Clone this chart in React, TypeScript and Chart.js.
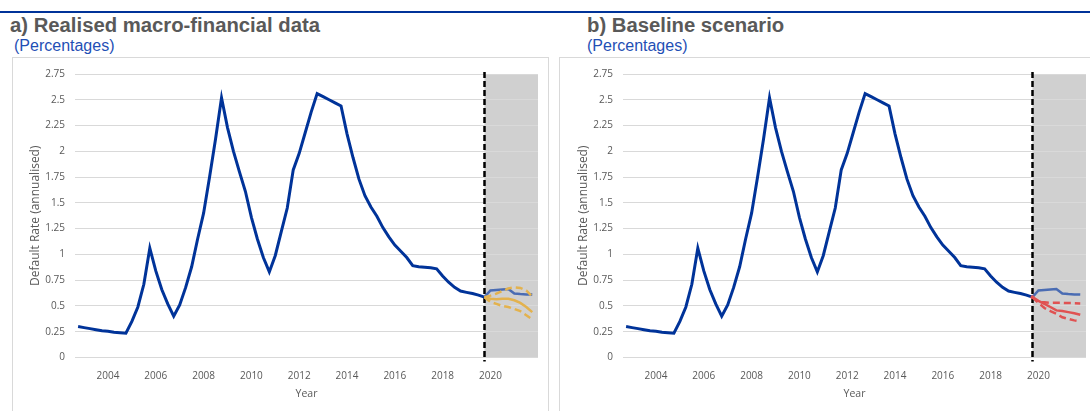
import React, { useEffect, useRef } from "react";
import { Chart, registerables } from "chart.js";

Chart.register(...registerables);

// Quarterly observations (year + quarter fraction)
const histX: number[] = [
  2002.75, 2003.0, 2003.25, 2003.5, 2003.75, 2004.0, 2004.25, 2004.5, 2004.75,
  2005.0, 2005.25, 2005.5, 2005.75, 2006.0, 2006.25, 2006.5, 2006.75,
  2007.0, 2007.25, 2007.5, 2007.75, 2008.0, 2008.25, 2008.5, 2008.75,
  2009.0, 2009.25, 2009.5, 2009.75, 2010.0, 2010.25, 2010.5, 2010.75,
  2011.0, 2011.25, 2011.5, 2011.75, 2012.0, 2012.25, 2012.5, 2012.75,
  2013.0, 2013.25, 2013.5, 2013.75, 2014.0, 2014.25, 2014.5, 2014.75,
  2015.0, 2015.25, 2015.5, 2015.75, 2016.0, 2016.25, 2016.5, 2016.75,
  2017.0, 2017.25, 2017.5, 2017.75, 2018.0, 2018.25, 2018.5, 2018.75,
  2019.0, 2019.25, 2019.5, 2019.75,
];
const histDefaultRate: number[] = [
  0.30, 0.29, 0.28, 0.27, 0.26, 0.255, 0.245, 0.24, 0.235,
  0.35, 0.49, 0.71, 1.06, 0.84, 0.66, 0.52, 0.40,
  0.51, 0.68, 0.88, 1.15, 1.40, 1.75, 2.12, 2.52,
  2.23, 2.0, 1.80, 1.61, 1.36, 1.15, 0.97, 0.83,
  0.99, 1.22, 1.45, 1.82, 1.98, 2.18, 2.38, 2.56,
  2.53, 2.50, 2.47, 2.44, 2.17, 1.94, 1.73, 1.57,
  1.46, 1.37, 1.26, 1.17, 1.09, 1.03, 0.97, 0.89,
  0.88, 0.875, 0.87, 0.86, 0.79, 0.73, 0.68, 0.645,
  0.632, 0.62, 0.605, 0.585,
];

const projX: number[] = [2019.75, 2020.0, 2020.25, 2020.5, 2020.75, 2021.0, 2021.25, 2021.5, 2021.75];
const projBlue: number[] = [0.585, 0.65, 0.655, 0.66, 0.665, 0.62, 0.615, 0.612, 0.61];
const goldCentral: number[] = [0.585, 0.57, 0.565, 0.57, 0.57, 0.555, 0.53, 0.49, 0.44];
const goldUpper: number[] = [0.585, 0.60, 0.62, 0.645, 0.67, 0.68, 0.675, 0.65, 0.59];
const goldLower: number[] = [0.585, 0.54, 0.52, 0.50, 0.49, 0.47, 0.45, 0.41, 0.37];
const redCentral: number[] = [0.585, 0.55, 0.52, 0.49, 0.457, 0.45, 0.44, 0.43, 0.415];
const redUpper: number[] = [0.585, 0.54, 0.535, 0.53, 0.53, 0.53, 0.528, 0.527, 0.525];
const redLower: number[] = [0.585, 0.53, 0.48, 0.45, 0.425, 0.39, 0.375, 0.36, 0.35];

const xTickYears: number[] = [2004, 2006, 2008, 2010, 2012, 2014, 2016, 2018, 2020];
const projectionStart = 2019.75;

const HIST_COLOR = "#003399";
const PROJ_BLUE = "#4a6cb3";
const GOLD = "#e3b24e";
const RED = "#e05252";
const TEXT = "#595959";
const FONT = "'Open Sans', sans-serif";

const pts = (xs: number[], ys: number[]) => xs.map((x, i) => ({ x, y: ys[i] }));

const shadePlugin = {
  id: "shade",
  beforeDraw(chart: any) {
    const { ctx, chartArea, scales } = chart;
    const x0 = scales.x.getPixelForValue(projectionStart);
    ctx.save();
    ctx.fillStyle = "#d0d0d0";
    ctx.fillRect(x0, chartArea.top, chartArea.right - x0, chartArea.bottom - chartArea.top);
    ctx.restore();
  },
  beforeDatasetsDraw(chart: any) {
    const { ctx, chartArea, scales } = chart;
    const x0 = Math.round(scales.x.getPixelForValue(projectionStart)) + 0.5;
    ctx.save();
    ctx.strokeStyle = "#000000";
    ctx.lineWidth = 2.5;
    ctx.setLineDash([6, 3]);
    ctx.beginPath();
    ctx.moveTo(x0, chartArea.top - 2);
    ctx.lineTo(x0, chartArea.bottom + 4);
    ctx.stroke();
    ctx.restore();
  },
};

function buildDatasets(kind: "a" | "b") {
  const sets: any[] = [];
  const base = { tension: 0, pointRadius: 0, borderWidth: 2.5, fill: false };
  if (kind === "a") {
    sets.push({ ...base, label: "Upper", data: pts(projX, goldUpper), borderColor: GOLD, borderDash: [7, 4] });
    sets.push({ ...base, label: "Lower", data: pts(projX, goldLower), borderColor: GOLD, borderDash: [7, 4] });
    sets.push({ ...base, label: "Central", data: pts(projX, goldCentral), borderColor: GOLD });
  } else {
    sets.push({ ...base, label: "Upper", data: pts(projX, redUpper), borderColor: RED, borderDash: [7, 4] });
    sets.push({ ...base, label: "Lower", data: pts(projX, redLower), borderColor: RED, borderDash: [7, 4] });
    sets.push({
      ...base,
      label: "Central",
      data: pts(projX, redCentral),
      borderColor: RED,
      backgroundColor: RED,
      pointRadius: projX.map((_, i) => (i === 0 ? 2 : 0)),
      pointBorderWidth: 0,
    });
  }
  sets.push({ ...base, label: "Projection", data: pts(projX, projBlue), borderColor: PROJ_BLUE });
  sets.push({ ...base, label: "Realised", data: pts(histX, histDefaultRate), borderColor: HIST_COLOR, borderWidth: 3 });
  return sets;
}

function Panel({ kind, left, width }: { kind: "a" | "b"; left: number; width: number }) {
  const ref = useRef<HTMLCanvasElement>(null);
  useEffect(() => {
    if (!ref.current) return;
    const chart = new Chart(ref.current, {
      type: "line",
      data: { datasets: buildDatasets(kind) },
      plugins: [shadePlugin],
      options: {
        animation: false,
        responsive: false,
        devicePixelRatio: 1,
        layout: { padding: { left: 0, right: width - 62 - 463, top: 13.5, bottom: 0 } },
        plugins: { legend: { display: false }, tooltip: { enabled: false } },
        scales: {
          x: {
            type: "linear",
            min: 2002.62,
            max: 2021.99,
            afterBuildTicks: (s: any) => {
              s.ticks = xTickYears.map((v) => ({ value: v }));
            },
            afterFit: (s: any) => {
              s.height = 53.5;
            },
            grid: { display: false, drawTicks: false },
            border: { display: false },
            ticks: {
              padding: 13,
              color: TEXT,
              font: { family: FONT, size: 10 },
              callback: (v: any) => String(v),
              maxRotation: 0,
              autoSkip: false,
            },
            title: {
              display: true,
              text: "Year",
              color: TEXT,
              font: { family: FONT, size: 10.5 },
              padding: { top: 0, bottom: 11 },
            },
          },
          y: {
            min: 0,
            max: 2.75,
            afterFit: (s: any) => {
              s.width = 62;
            },
            grid: { color: "#d9d9d9", lineWidth: 1, drawTicks: false },
            border: { display: false },
            ticks: {
              stepSize: 0.25,
              padding: 10,
              color: TEXT,
              font: { family: FONT, size: 10 },
              callback: (v: any) => String(Math.round(Number(v) * 100) / 100),
            },
            title: {
              display: true,
              text: "Default Rate (annualised)",
              color: TEXT,
              font: { family: FONT, size: 12 },
              padding: { top: 15.5, bottom: 0 },
            },
          },
        },
      },
    } as any);
    return () => chart.destroy();
  }, [kind, width]);
  return (
    <canvas
      ref={ref}
      width={width}
      height={353}
      style={{ position: "absolute", left, top: 58, width, height: 353 }}
    />
  );
}

const titleStyle: React.CSSProperties = {
  position: "absolute",
  fontFamily: "'Liberation Sans', Arial, sans-serif",
  fontWeight: "bold",
  fontSize: 20.3,
  lineHeight: "20px",
  color: "#595959",
  whiteSpace: "nowrap",
  top: 15,
};
const subStyle: React.CSSProperties = {
  position: "absolute",
  fontFamily: "'Liberation Sans', Arial, sans-serif",
  fontSize: 16,
  lineHeight: "16px",
  color: "#1f4fb5",
  whiteSpace: "nowrap",
  top: 38,
};

export default function App() {
  return (
    <div
      style={{
        position: "absolute",
        left: 0,
        top: 0,
        width: 1090,
        height: 411,
        overflow: "hidden",
        background: "#ffffff",
      }}
    >
      <div style={{ position: "absolute", left: 0, top: 11, width: 1090, height: 2, background: "#003399" }} />
      <div style={{ ...titleStyle, left: 10 }}>a) Realised macro-financial data</div>
      <div style={{ ...subStyle, left: 14 }}>(Percentages)</div>
      <div style={{ ...titleStyle, left: 587 }}>b) Baseline scenario</div>
      <div style={{ ...subStyle, left: 587 }}>(Percentages)</div>
      <div
        style={{
          position: "absolute",
          left: 12,
          top: 57,
          width: 537,
          height: 380,
          border: "1px solid #d9d9d9",
          boxSizing: "border-box",
        }}
      />
      <div
        style={{
          position: "absolute",
          left: 559,
          top: 57,
          width: 560,
          height: 380,
          border: "1px solid #d9d9d9",
          boxSizing: "border-box",
        }}
      />
      <Panel kind="a" left={13} width={535} />
      <Panel kind="b" left={561} width={529} />
    </div>
  );
}
